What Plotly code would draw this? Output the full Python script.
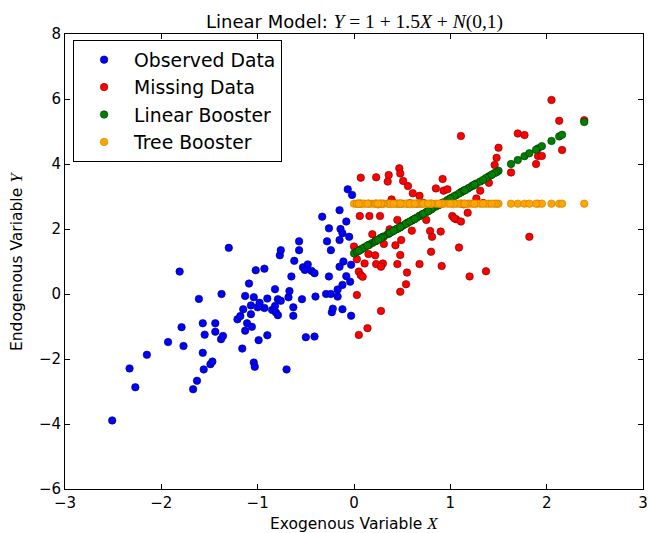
import plotly.graph_objects as go

# Observed data (blue)
obs_x = [-2.51, -2.33, -2.27, -2.15, -1.93, -1.81, -1.79, -1.77, -1.67, -1.63,
         -1.61, -1.57, -1.57, -1.56, -1.55, -1.49, -1.47, -1.44, -1.44, -1.38,
         -1.375, -1.36, -1.30, -1.21, -1.18, -1.16, -1.15, -1.13, -1.13, -1.11,
         -1.09, -1.07, -1.07, -1.06, -1.04, -1.04, -1.03, -1.02, -1.00, -0.99,
         -0.98, -0.93, -0.93, -0.90, -0.90, -0.85, -0.82, -0.82, -0.81, -0.79,
         -0.79, -0.77, -0.76, -0.76, -0.70, -0.68, -0.67, -0.65, -0.63, -0.63,
         -0.62, -0.57, -0.57, -0.54, -0.53, -0.51, -0.50, -0.48, -0.44, -0.41,
         -0.41, -0.40, -0.33, -0.29, -0.28, -0.26, -0.26, -0.24, -0.24, -0.23,
         -0.22, -0.17, -0.17, -0.15, -0.15, -0.15, -0.14, -0.12, -0.12, -0.12,
         -0.11, -0.08, -0.08, -0.065, -0.05, -0.04, -0.03, -0.03, -0.02]
obs_y = [-3.89, -2.29, -2.87, -1.87, -1.48, 0.69, -1.02, -1.60, -2.93, -2.67,
         -0.15, -0.90, -1.81, -2.32, -1.25, -2.16, -2.08, -0.90, -1.16, -1.39,
         0.00, -1.29, 1.42, -0.78, -0.68, -1.68, -0.47, -0.06, -1.13, -0.90,
         0.32, -0.35, -0.62, -1.01, -0.10, -2.11, -2.24, 0.73, -0.41, -1.42,
         -0.27, 0.78, -0.43, -0.14, -1.27, -0.49, 0.15, -0.37, -0.57, -0.16,
         -0.65, 1.19, 1.35, -0.21, -2.32, -0.10, 0.09, 0.54, -0.41, -0.67,
         1.02, 1.62, 1.35, -0.16, 0.82, 0.74, -1.33, 0.91, 0.71, 0.64,
         -1.31, -0.08, 2.38, 0.00, 1.62, 2.02, 0.54, 1.35, 0.00, -0.56,
         -0.45, 0.14, -0.08, 2.58, 1.66, 0.84, 2.00, 1.87, 0.28, -0.47,
         1.00, 2.23, 0.55, 3.22, 1.76, 0.38, 0.90, -0.67, 3.05]

# Missing data (red)
mis_x = [1.11, 0.47, 0.48, 0.36, 0.07, 0.23, 0.35, 0.51, 0.56, 0.92,
         0.85, 0.93, 0.97, 0.61, 0.68, 0.39, 0.06, 0.16, 0.27, 0.45,
         0.75, 1.02, 1.06, 1.11, 0.60, 0.37, 0.79, 0.81, 0.90, 0.19,
         0.49, 0.00, 0.31, 0.43, 1.09, 0.80, 0.15, 0.22, 0.48, 0.03,
         0.11, 0.23, 0.30, 0.28, 0.45, 0.68, 0.91, 0.05, 0.07, 0.09,
         0.55, 0.54, 0.48, 0.03, 0.28, 0.14, 0.05, 1.27, 1.31, 1.40,
         1.18, 1.04, 1.37, 1.20, 2.05, 2.13, 2.39, 1.70, 1.77, 2.16,
         1.50, 1.48, 1.46, 1.91, 1.95, 1.89, 1.63, 1.82,
         0.65, 0.71, 0.72, 1.14, 1.23, 1.34, 1.43, 0.25, 0.41, 0.58,
         0.88, 1.00, 1.15, 0.63, 0.77, 1.25]
mis_y = [4.86, 3.87, 3.71, 3.66, 3.58, 3.59, 3.46, 3.48, 3.32, 3.54,
         3.25, 3.18, 3.22, 3.10, 3.02, 2.91, 2.40, 2.40, 2.40, 2.28,
         2.28, 2.40, 2.30, 2.23, 1.95, 1.99, 1.94, 1.76, 1.92, 1.84,
         1.66, 1.46, 1.54, 1.50, 1.43, 1.30, 1.23, 1.19, 1.20, 1.07,
         0.94, 0.92, 0.94, 0.84, 0.92, 0.92, 0.86, 0.69, 0.58, 0.53,
         0.66, 0.30, 0.07, -0.03, -0.52, -1.05, -1.26, 2.94, 3.18, 3.42,
         2.50, 2.33, 0.70, 0.54, 5.97, 5.33, 5.35, 4.94, 4.89, 4.43,
         4.50, 4.19, 3.97, 4.25, 4.25, 4.00, 3.74, 1.76,
         2.78, 2.45, 2.80, 2.76, 3.33, 2.80, 3.67, 2.76, 2.80, 2.79,
         2.74, 2.94, 3.19, 2.31, 2.55, 3.36]

# Linear booster predictions (green), at the missing-data X values
lin_y = [3.13, 2.04, 2.06, 1.86, 1.37, 1.64, 1.84, 2.11, 2.20, 2.80,
         2.69, 2.82, 2.89, 2.28, 2.40, 1.91, 1.35, 1.52, 1.71, 2.01,
         2.52, 2.97, 3.04, 3.13, 2.26, 1.88, 2.59, 2.62, 2.77, 1.57,
         2.08, 1.25, 1.77, 1.98, 3.09, 2.60, 1.50, 1.62, 2.06, 1.30,
         1.44, 1.64, 1.76, 1.72, 2.01, 2.40, 2.79, 1.33, 1.37, 1.40,
         2.18, 2.16, 2.06, 1.30, 1.72, 1.49, 1.33, 3.40, 3.46, 3.62,
         3.24, 3.01, 3.57, 3.28, 4.71, 4.85, 5.29, 4.12, 4.24, 4.90,
         3.79, 3.75, 3.72, 4.48, 4.55, 4.44, 4.00, 4.33,
         2.35, 2.45, 2.47, 3.18, 3.33, 3.51, 3.67, 1.67, 1.94, 2.23,
         2.74, 2.94, 3.19, 2.31, 2.55, 3.36]

# Tree booster predictions (orange), at the missing-data X values
tree_y = [2.78] * len(mis_x)

x_ticks = [-3, -2, -1, 0, 1, 2, 3]
y_ticks = [-6, -4, -2, 0, 2, 4, 6, 8]

FONT = "DejaVu Sans"
SERIF = "Liberation Serif"


def mk(color, edge):
    return dict(color=color, size=7.5, line=dict(color=edge, width=0.6))


def lab(v):
    return ("\u2212" + str(-v)) if v < 0 else str(v)


fig = go.Figure()
fig.add_trace(go.Scatter(x=obs_x, y=obs_y, mode="markers", name="Observed Data",
                         marker=mk("#0000ff", "#000060"), legendgroup="a"))
fig.add_trace(go.Scatter(x=mis_x, y=mis_y, mode="markers", name="Missing Data",
                         marker=mk("#ff0000", "#700000"), legendgroup="b"))
fig.add_trace(go.Scatter(x=mis_x, y=lin_y, mode="markers", name="Linear Booster",
                         marker=mk("#008000", "#003000"), legendgroup="c"))
fig.add_trace(go.Scatter(x=mis_x, y=tree_y, mode="markers", name="Tree Booster",
                         marker=mk("#ffa500", "#c88000"), legendgroup="d"))

axis_common = dict(showline=True, linecolor="black", linewidth=1, mirror="allticks",
                   ticks="inside", ticklen=5, tickcolor="black", showgrid=False,
                   zeroline=False, ticklabeloverflow="allow", automargin=False,
                   tickfont=dict(family=FONT, size=15, color="black"))

fig.update_layout(
    width=649, height=533,
    margin=dict(l=65, r=6, t=34, b=44),
    paper_bgcolor="white", plot_bgcolor="white",
    font=dict(family=FONT, color="black"),
    xaxis=dict(range=[-3, 3], tickvals=x_ticks, ticktext=[lab(v) for v in x_ticks],
               **axis_common),
    yaxis=dict(range=[-6, 8], tickvals=y_ticks, ticktext=[lab(v) for v in y_ticks],
               **axis_common),
    showlegend=True,
    legend=dict(x=0.014, y=0.987, xanchor="left", yanchor="top",
                bordercolor="black", borderwidth=1, bgcolor="white",
                font=dict(family=FONT, size=18.8, color="black"),
                tracegroupgap=0, itemwidth=50),
)

fig.add_annotation(
    xref="paper", yref="paper", x=0.5, y=1, yanchor="bottom", yshift=-1,
    showarrow=False,
    text=("Linear Model: <span style='font-family:" + SERIF + ";font-size:19.5px'>"
          "<i>Y</i> = 1 + 1.5<i>X</i> + <i>N</i>(0,1)</span>"),
    font=dict(family=FONT, size=18, color="black"))
fig.add_annotation(
    xref="paper", yref="paper", x=0.5, y=0, yanchor="top", yshift=-23,
    showarrow=False,
    text="Exogenous Variable <span style='font-family:" + SERIF + ";font-size:17px'><i>X</i></span>",
    font=dict(family=FONT, size=15.5, color="black"))
fig.add_annotation(
    xref="paper", yref="paper", x=0, y=0.5, xanchor="right", xshift=-37,
    showarrow=False, textangle=-90,
    text="Endogenous Variable <span style='font-family:" + SERIF + ";font-size:17px'><i>Y</i></span>",
    font=dict(family=FONT, size=15.5, color="black"))

fig.write_html("out.html")
